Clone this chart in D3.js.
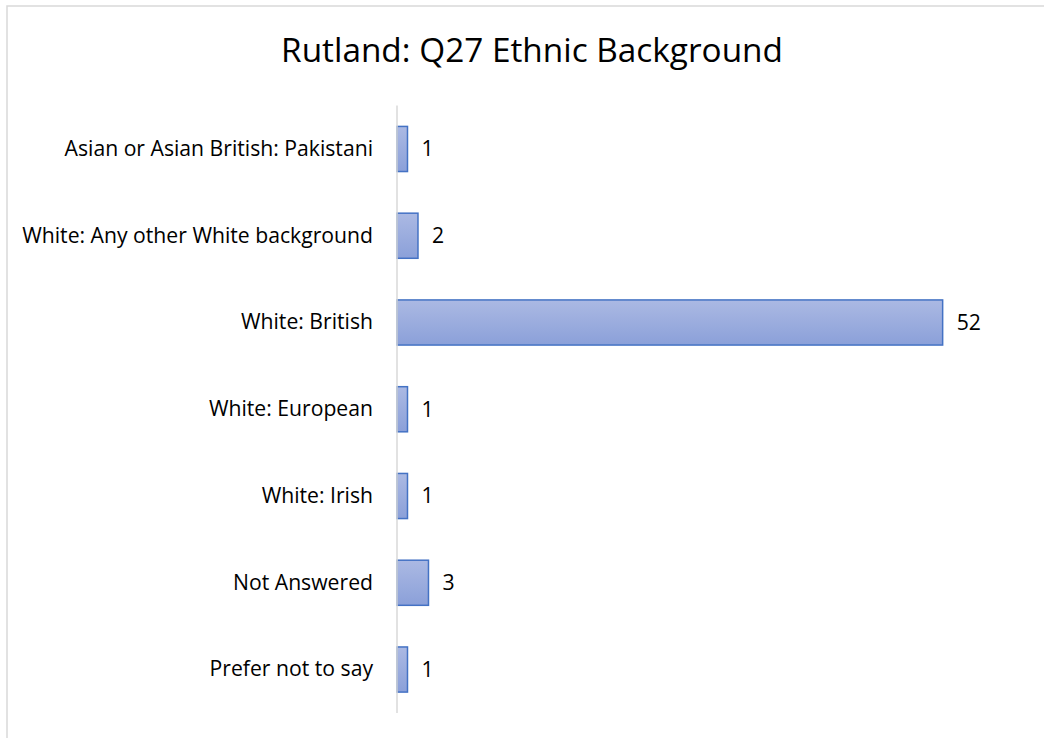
<!DOCTYPE html>
<html>
<head>
<meta charset="utf-8">
<script src="https://cdn.jsdelivr.net/npm/d3@7"></script>
<style>
  html, body { margin: 0; padding: 0; background: #fff; }
  svg { display: block; }
  text { font-family: "Open Sans", "Liberation Sans", sans-serif; fill: #000; }
</style>
</head>
<body>
<svg id="chart" width="1044" height="738"></svg>
<script>
const titleText = "Rutland: Q27 Ethnic Background";
const categories = [
  "Asian or Asian British: Pakistani",
  "White: Any other White background",
  "White: British",
  "White: European",
  "White: Irish",
  "Not Answered",
  "Prefer not to say"
];
const values = [1, 2, 52, 1, 1, 3, 1];
const xMax = 60;

const svg = d3.select("#chart");
const W = 1044, H = 738;

// Outer frame
svg.append("rect")
  .attr("x", 7).attr("y", 6)
  .attr("width", 1060).attr("height", 760)
  .attr("fill", "#fff")
  .attr("stroke", "#d9d9d9").attr("stroke-width", 1.5);

// gradient
const defs = svg.append("defs");
const grad = defs.append("linearGradient")
  .attr("id", "barGrad").attr("x1", 0).attr("y1", 0).attr("x2", 0).attr("y2", 1);
grad.append("stop").attr("offset", "0%").attr("stop-color", "#abb9e3");
grad.append("stop").attr("offset", "100%").attr("stop-color", "#8ba0d9");

const x = d3.scaleLinear().domain([0, xMax]).range([397, 1026.6]);
const y = d3.scaleBand().domain(categories).range([105.6, 712.9])
  .paddingInner(0.48).paddingOuter(0.24);

// fit helper
function fitSize(sel, target, base) {
  const w = sel.node().getComputedTextLength();
  return base * target / w;
}

// Title
const title = svg.append("text")
  .attr("x", 532).attr("y", 62)
  .attr("text-anchor", "middle")
  .style("font-size", "30px")
  .text(titleText);
title.style("font-size", fitSize(title, 502, 30) + "px");

// Bars
svg.append("g").selectAll("rect")
  .data(values)
  .join("rect")
  .attr("x", x(0))
  .attr("y", (d, i) => y(categories[i]))
  .attr("width", d => x(d) - x(0))
  .attr("height", y.bandwidth())
  .attr("fill", "url(#barGrad)")
  .attr("stroke", "#4472c4")
  .attr("stroke-width", 1.5);

// Axis line (category axis)
const yAxis = d3.axisLeft(y).tickSize(0).tickPadding(24);
const gAxis = svg.append("g")
  .attr("transform", `translate(${x(0)},0)`)
  .call(yAxis);
gAxis.select(".domain")
  .attr("stroke", "#d9d9d9").attr("stroke-width", 1.5)
  .attr("d", `M0,${y.range()[0]}V${y.range()[1]}`);
gAxis.selectAll(".tick text")
  .attr("fill", "#000")
  .style("font-family", '"Open Sans", "Liberation Sans", sans-serif')
  .style("font-size", "20px");

// fit label size to longest label
let longest = null, maxW = 0;
gAxis.selectAll(".tick text").each(function() {
  const w = this.getComputedTextLength();
  if (w > maxW) { maxW = w; longest = this; }
});
const labelSize = 20 * 351 / maxW;
gAxis.selectAll(".tick text").style("font-size", labelSize + "px");

// Value labels
svg.append("g").selectAll("text")
  .data(values)
  .join("text")
  .attr("x", d => x(d) + 14)
  .attr("y", (d, i) => y(categories[i]) + y.bandwidth() / 2)
  .attr("dy", "0.35em")
  .style("font-size", labelSize + "px")
  .text(d => d);
</script>
</body>
</html>
